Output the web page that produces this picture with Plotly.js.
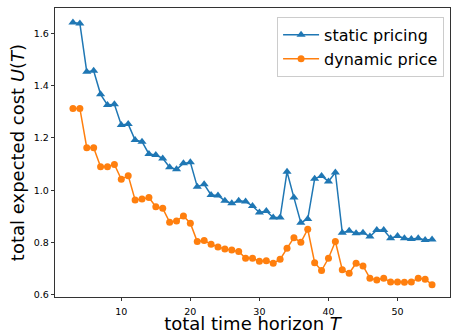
<!DOCTYPE html>
<html>
<head>
<meta charset="utf-8">
<script src="https://cdn.plot.ly/plotly-3.0.1.min.js"></script>
<style>html,body{margin:0;padding:0;background:#fff;}#chart{width:452px;height:334px;}</style>
</head>
<body>
<div id="chart"></div>
<script>
const horizon = [3,4,5,6,7,8,9,10,11,12,13,14,15,16,17,18,19,20,21,22,23,24,25,26,27,28,29,30,31,32,33,34,35,36,37,38,39,40,41,42,43,44,45,46,47,48,49,50,51,52,53,54,55];
const staticPricing = [1.642,1.638,1.453,1.457,1.367,1.326,1.329,1.250,1.253,1.192,1.186,1.139,1.135,1.122,1.088,1.080,1.103,1.107,1.014,1.023,0.982,0.980,0.960,0.950,0.960,0.957,0.940,0.915,0.921,0.896,0.896,1.071,0.972,0.876,0.890,1.044,1.055,1.034,1.068,0.838,0.845,0.836,0.838,0.823,0.848,0.848,0.817,0.825,0.817,0.814,0.817,0.810,0.812];
const dynamicPrice = [1.313,1.313,1.163,1.163,1.090,1.090,1.099,1.042,1.056,0.963,0.967,0.972,0.937,0.931,0.878,0.883,0.902,0.874,0.804,0.808,0.794,0.783,0.776,0.772,0.766,0.740,0.740,0.729,0.731,0.721,0.736,0.778,0.819,0.801,0.851,0.723,0.693,0.740,0.804,0.696,0.683,0.721,0.711,0.664,0.657,0.664,0.649,0.649,0.648,0.649,0.664,0.660,0.639];
const yTicks = [0.6,0.8,1.0,1.2,1.4,1.6];
const yTickText = ['0.6','0.8','1.0','1.2','1.4','1.6'];
const xTicks = [10,20,30,40,50];

const font = 'DejaVu Sans, sans-serif';
const traces = [
  {x: horizon, y: staticPricing, name: 'static pricing', mode: 'lines+markers',
   line: {color: '#1f77b4', width: 1.5}, marker: {symbol: 'triangle-up', size: 8, color: '#1f77b4'}},
  {x: horizon, y: dynamicPrice, name: 'dynamic price', mode: 'lines+markers',
   line: {color: '#ff7f0e', width: 1.5}, marker: {symbol: 'circle', size: 7, color: '#ff7f0e'}}
];
const layout = {
  width: 452, height: 334,
  margin: {l: 55, r: 2, t: 8, b: 37},
  paper_bgcolor: '#fff', plot_bgcolor: '#fff',
  showlegend: true,
  font: {family: font, color: '#000'},
  xaxis: {range: [0.4, 57.6], tickvals: xTicks, ticks: 'outside', ticklen: 3.5, tickwidth: 0.8,
    ticklabelstandoff: 2,
    tickcolor: '#000', showline: true, linecolor: '#000', linewidth: 0.8, mirror: true,
    showgrid: false, zeroline: false, tickfont: {size: 9.5, family: font},
    title: {text: 'total time horizon <i>T</i>', font: {size: 18, family: font}, standoff: 1}},
  yaxis: {range: [0.592, 1.697], tickvals: yTicks, ticktext: yTickText, ticks: 'outside', ticklen: 3.5, tickwidth: 0.8,
    tickcolor: '#000', showline: true, linecolor: '#000', linewidth: 0.8, mirror: true,
    showgrid: false, zeroline: false, tickfont: {size: 9.5, family: font},
    title: {text: 'total expected cost <i>U</i>(<i>T</i>)', font: {size: 18, family: font}, standoff: 4}},
  legend: {x: 0.985, xanchor: 'right', y: 0.969, yanchor: 'top', bgcolor: 'rgba(255,255,255,0.8)',
    bordercolor: '#cccccc', borderwidth: 1, font: {size: 16, family: font}, itemwidth: 36, tracegroupgap: 0}
};
Plotly.newPlot('chart', traces, layout, {displayModeBar: false, staticPlot: true});
</script>
</body>
</html>
